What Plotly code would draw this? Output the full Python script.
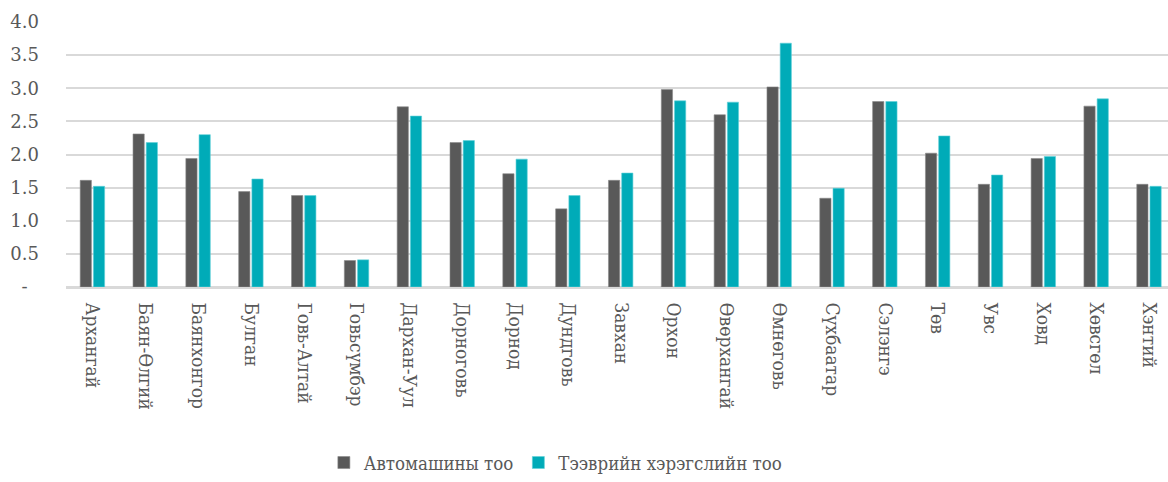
import plotly.graph_objects as go

categories = ["Архангай", "Баян-Өлгий", "Баянхонгор", "Булган", "Говь-Алтай", "Говьсүмбэр",
              "Дархан-Уул", "Дорноговь", "Дорнод", "Дундговь", "Завхан", "Орхон",
              "Өвөрхангай", "Өмнөговь", "Сүхбаатар", "Сэлэнгэ", "Төв", "Увс", "Ховд",
              "Хөвсгөл", "Хэнтий"]
auto_values = [1.61, 2.31, 1.94, 1.44, 1.38, 0.40, 2.72, 2.18, 1.71, 1.18, 1.61, 2.98,
               2.60, 3.02, 1.34, 2.80, 2.02, 1.55, 1.94, 2.73, 1.55]
vehicle_values = [1.52, 2.18, 2.30, 1.63, 1.38, 0.41, 2.58, 2.21, 1.93, 1.38, 1.72, 2.81,
                  2.79, 3.68, 1.49, 2.80, 2.28, 1.69, 1.97, 2.84, 1.52]
series_names = ["Автомашины тоо", "Тээврийн хэрэгслийн тоо"]
y_tickvals = [0, 0.5, 1.0, 1.5, 2.0, 2.5, 3.0, 3.5, 4.0]
y_ticktext = ["-\u00a0\u00a0", "0.5", "1.0", "1.5", "2.0", "2.5", "3.0", "3.5", "4.0"]

DARK = "#595959"
CYAN = "#00ABB8"
TEXT = "#595959"
FONT = "DejaVu Serif Condensed"

fig = go.Figure()
fig.add_trace(go.Bar(x=categories, y=auto_values, name=series_names[0],
                     marker=dict(color=DARK, line=dict(color="#8a8a8a", width=0.6))))
fig.add_trace(go.Bar(x=categories, y=vehicle_values, name=series_names[1],
                     marker=dict(color=CYAN, line=dict(color="#5fd0d8", width=0.6))))

fig.update_layout(
    width=1168, height=482,
    margin=dict(l=66, r=0, t=22, b=188),
    paper_bgcolor="white", plot_bgcolor="white",
    barmode="group", bargap=0.5, bargroupgap=0.15,
    font=dict(family=FONT, size=20, color=TEXT),
    showlegend=True,
    legend=dict(orientation="h", x=0.234, xanchor="left", y=-0.665, yanchor="middle",
                font=dict(family=FONT, size=18.5, color=TEXT), itemwidth=30,
                traceorder="normal"),
)
fig.update_xaxes(
    type="category", range=[-0.5, 20.36], tickangle=90, ticks="",
    showgrid=False, showline=True, linecolor="#D9D9D9", linewidth=1.5,
    ticklabelstandoff=10,
    tickfont=dict(family=FONT, size=19, color=TEXT), automargin=False,
)
fig.update_yaxes(
    range=[0, 4.0], tickvals=y_tickvals, ticktext=y_ticktext,
    showgrid=True, gridcolor="#D9D9D9", gridwidth=1.5,
    zeroline=True, zerolinecolor="#D9D9D9", zerolinewidth=1.5,
    showline=False, ticks="", ticklabelstandoff=26,
    tickfont=dict(family="DejaVu Serif", size=18, color=TEXT), automargin=False,
)

fig.write_html("out.html", config={"displayModeBar": False},
               post_script="document.body.style.margin='0';document.body.style.overflow='hidden';")
